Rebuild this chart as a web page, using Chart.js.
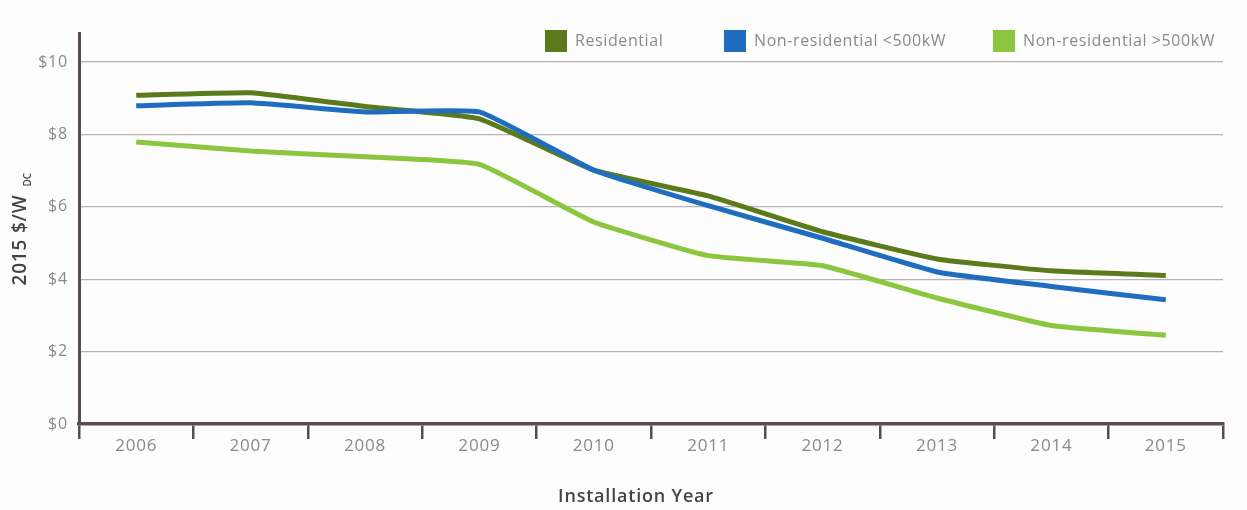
<!DOCTYPE html>
<html>
<head>
<meta charset="utf-8">
<script src="https://cdn.jsdelivr.net/npm/chart.js@4/dist/chart.umd.min.js"></script>
<style>
  html, body { margin: 0; padding: 0; background: #fdfdfd; }
  #wrap { width: 1247px; height: 510px; position: relative; }
</style>
</head>
<body>
<div id="wrap"><canvas id="c" width="1247" height="510"></canvas></div>
<script>
// Installed PV prices by year, 2015 $/W (DC)
const years = ['2006', '2007', '2008', '2009', '2010', '2011', '2012', '2013', '2014', '2015'];
const residential = [9.08, 9.15, 8.77, 8.43, 7.01, 6.30, 5.31, 4.56, 4.23, 4.10];
const nonResSmall = [8.79, 8.87, 8.62, 8.62, 7.01, 6.03, 5.13, 4.20, 3.80, 3.43];
const nonResLarge = [7.79, 7.54, 7.38, 7.17, 5.58, 4.65, 4.37, 3.48, 2.72, 2.45];
const yTicks = [0, 2, 4, 6, 8, 10];
const seriesNames = ['Residential', 'Non-residential <500kW', 'Non-residential >500kW'];

const colors = ['#5a7a1c', '#1f6dbf', '#8cc63e'];
const axisDark = '#574d4d';
const labelGrey = '#8a8a8a';
const baseFont = "'Open Sans', 'DejaVu Sans', sans-serif";

// Wide letter spacing for all canvas text
const spacing = {
  id: 'spacing',
  beforeDraw(chart) { chart.ctx.letterSpacing = '0.8px'; }
};

// Legend and axis titles drawn onto the canvas
const decorations = {
  id: 'decorations',
  afterDraw(chart) {
    const ctx = chart.ctx;
    ctx.save();

    // legend
    const legendItems = [
      { x: 545, label: seriesNames[0], color: colors[0] },
      { x: 724, label: seriesNames[1], color: colors[1] },
      { x: 993, label: seriesNames[2], color: colors[2] }
    ];
    ctx.letterSpacing = '0.6px';
    ctx.font = '16px ' + baseFont;
    ctx.textBaseline = 'middle';
    ctx.textAlign = 'left';
    legendItems.forEach(it => {
      ctx.fillStyle = it.color;
      ctx.fillRect(it.x, 30, 22, 22);
      ctx.fillStyle = labelGrey;
      ctx.fillText(it.label, it.x + 30, 41);
    });

    // x axis title
    ctx.letterSpacing = '0.8px';
    ctx.fillStyle = '#444';
    ctx.font = '600 18px ' + baseFont;
    ctx.textAlign = 'center';
    ctx.fillText('Installation Year', 636, 497);

    // y axis title with subscript
    ctx.translate(21, 240);
    ctx.rotate(-Math.PI / 2);
    ctx.font = '600 19px ' + baseFont;
    ctx.textAlign = 'left';
    const main = '2015 $/W';
    const w = ctx.measureText(main).width;
    ctx.fillText(main, -w / 2, 0);
    ctx.font = '600 10px ' + baseFont;
    ctx.letterSpacing = '0px';
    ctx.fillText('DC', w / 2 + 8, 7);
    ctx.restore();
  }
};

const makeSet = (label, data, color, order) => ({
  label, data,
  borderColor: color,
  backgroundColor: color,
  borderWidth: 5,
  pointRadius: 0,
  pointHoverRadius: 0,
  tension: 0.12,
  borderJoinStyle: 'round',
  fill: false,
  order
});

new Chart(document.getElementById('c'), {
  type: 'line',
  data: {
    labels: years,
    datasets: [
      makeSet(seriesNames[0], residential, colors[0], 1),
      makeSet(seriesNames[1], nonResSmall, colors[1], 0),
      makeSet(seriesNames[2], nonResLarge, colors[2], 2)
    ]
  },
  options: {
    responsive: false,
    animation: false,
    layout: { padding: { top: 33, right: 24, left: 0, bottom: 0 } },
    plugins: { legend: { display: false }, tooltip: { enabled: false } },
    scales: {
      x: {
        type: 'category',
        offset: true,
        grid: {
          offset: true,
          drawOnChartArea: false,
          drawTicks: true,
          tickLength: 15,
          color: axisDark,
          lineWidth: 2.5
        },
        border: { display: true, color: axisDark, width: 3.5 },
        ticks: {
          color: labelGrey,
          font: { family: baseFont, size: 17 },
          padding: -3,
          maxRotation: 0
        },
        afterFit(scale) { scale.height = 86; }
      },
      y: {
        min: 0,
        max: 10.8,
        grid: {
          color: '#b8b2b2',
          lineWidth: 1.2,
          drawTicks: false
        },
        border: { display: true, color: axisDark, width: 3 },
        afterBuildTicks(scale) {
          scale.ticks = yTicks.map(v => ({ value: v }));
        },
        ticks: {
          color: labelGrey,
          font: { family: baseFont, size: 16 },
          padding: 11,
          callback: v => '$' + v
        },
        afterFit(scale) { scale.width = 79; }
      }
    }
  },
  plugins: [spacing, decorations]
});
</script>
</body>
</html>
